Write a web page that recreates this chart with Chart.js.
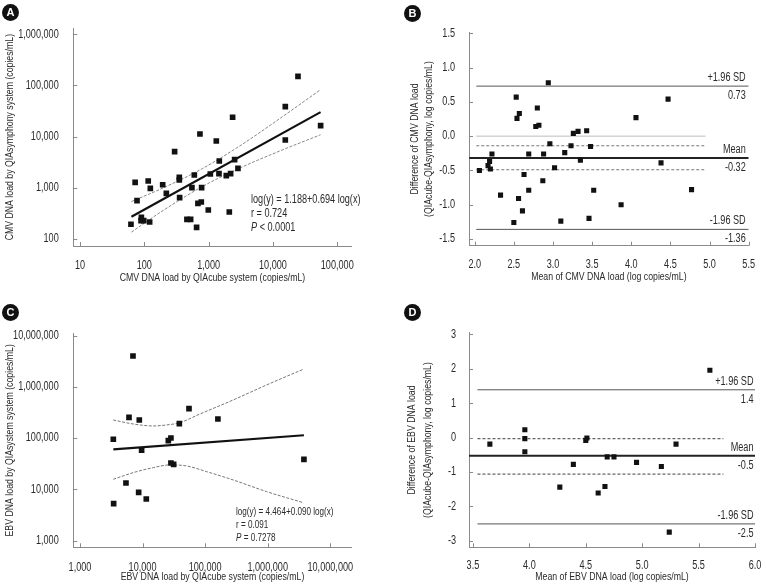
<!DOCTYPE html>
<html lang="en">
<head>
<meta charset="UTF-8">
<title>CMV / EBV DNA load - QIAcube vs QIAsymphony</title>
<script src="https://cdn.jsdelivr.net/npm/chart.js"></script>
<style>
  body { margin: 0; background: #fff; }
  #wrap { position: relative; width: 766px; height: 587px; overflow: hidden;
          font-family: "Liberation Sans", Arial, sans-serif; color: #2a2a2a; }
  canvas { position: absolute; }
  .tag { position: absolute; width: 17px; height: 17px; border-radius: 50%; background: #111; color: #fff;
         font: bold 11px "Liberation Sans", Arial, sans-serif; text-align: center; line-height: 17px; z-index: 2; }
  .eq { position: absolute; white-space: nowrap; z-index: 2; transform: scaleX(0.76); transform-origin: 0 0; }
</style>
</head>
<body>
<div id="wrap">
  <canvas id="cA" width="383" height="290" style="left:0;top:0"></canvas>
  <canvas id="cB" width="383" height="290" style="left:383px;top:0"></canvas>
  <canvas id="cC" width="383" height="297" style="left:0;top:290px"></canvas>
  <canvas id="cD" width="383" height="297" style="left:383px;top:290px"></canvas>

  <div class="tag" style="left:2px;top:4px">A</div>
  <div class="tag" style="left:404px;top:5px">B</div>
  <div class="tag" style="left:2px;top:304px">C</div>
  <div class="tag" style="left:404px;top:304px">D</div>

  <div class="eq" style="left:251px;top:192px;font-size:12px;line-height:14px">log(y) = 1.188+0.694 log(x)<br>r = 0.724<br><i>P</i> &lt; 0.0001</div>
  <div class="eq" style="left:236px;top:505px;font-size:10.7px;line-height:13px">log(y) = 4.464+0.090 log(x)<br>r = 0.091<br><i>P</i> = 0.7278</div>
</div>

<script>
// ---- A: CMV DNA load (copies/mL), QIAcube vs QIAsymphony
const cmvCube = [62, 72, 77, 90, 89, 98, 115, 121, 124, 193, 220, 296, 350, 350, 354, 460, 525, 550, 599, 650,
                 682, 769, 778, 733, 988, 1062, 1316, 1464, 1448, 1883, 2096, 2196, 2360, 2535, 2857, 15560, 15560, 24500, 55100];
const cmvSym  = [194, 1280, 561, 265, 228, 228, 1360, 215, 977, 1150, 780, 5090, 1600, 1420, 643, 242, 242, 1008, 1780, 169,
                 498, 528, 1008, 11270, 369, 1860, 8220, 3340, 1890, 1730, 337, 1890, 23900, 3550, 2400, 38500, 8610, 151000, 16400];
const cmvFitX = [63, 55000];
const cmvFitY = [272, 30100];
const cmvBandX  = [63, 200, 800, 3200, 12600, 55000];
const cmvBandHi = [540, 1007, 2380, 6850, 22300, 82800];
const cmvBandLo = [136, 367, 1060, 2500, 5210, 10900];
const aTicksX = [10, 100, 1000, 10000, 100000];
const aTicksY = [100, 1000, 10000, 100000, 1000000];

// ---- B: Bland-Altman CMV (log copies/mL)
const cmvMean = [2.06, 2.17, 2.19, 2.20, 2.22, 2.33, 2.50, 2.53, 2.54, 2.57, 2.56, 2.61, 2.63, 2.69, 2.69, 2.78, 2.80, 2.82, 2.87,
                 2.88, 2.94, 2.96, 3.02, 3.10, 3.15, 3.23, 3.26, 3.32, 3.35, 3.43, 3.46, 3.48, 3.52, 3.87, 4.06, 4.38, 4.47, 4.77];
const cmvDiff = [-0.50, -0.43, -0.37, -0.48, -0.26, -0.86, -1.26, 0.57, 0.26, 0.33, -0.91, -1.09, -0.56, -0.79, -0.26, 0.14, 0.41, 0.16, -0.65,
                 -0.26, 0.78, -0.11, -0.46, -1.24, -0.24, -0.14, 0.04, 0.07, -0.35, 0.08, -1.20, -0.15, -0.79, -1.00, 0.27, -0.39, 0.54, -0.78];
const bLimits = [0.73, -0.32, -1.36];           // +1.96 SD, mean, -1.96 SD
const bLimitNames = ['+1.96 SD', 'Mean', '-1.96 SD'];
const bLimitText = ['0.73', '-0.32', '-1.36'];
const bMeanCI = [-0.14, -0.49];
const bSpan = [2.02, 4.95, 5.5];                // line start, short end, long end
const bTicksX = [2.0, 2.5, 3.0, 3.5, 4.0, 4.5, 5.0, 5.5];
const bTicksY = [-1.5, -1.0, -0.5, 0.0, 0.5, 1.0, 1.5];

// ---- C: EBV DNA load (copies/mL), QIAcube vs QIAsystem
const ebvCube = [3410, 3450, 5430, 6070, 7030, 8660, 8870, 9660, 11470, 25800, 28400, 28400, 31400, 38700, 55200, 160000, 3790000];
const ebvSys  = [94900, 5270, 13300, 254700, 4010000, 8770, 226000, 57900, 6500, 89300, 100700, 32700, 30800, 192000, 377000, 236600, 38600];
const ebvFitX = [3410, 3790000];
const ebvFitY = [60500, 113800];
const ebvHiX = [3400, 7100, 14800, 24200, 39500, 82600, 281000, 959000, 3690000];
const ebvHiY = [226000, 188800, 172600, 180700, 200400, 295800, 555900, 1089000, 2203000];
const ebvLoX = [3400, 7100, 14800, 27400, 50600, 105700, 281000, 959000, 3690000];
const ebvLoY = [15740, 21230, 26550, 30000, 28640, 22180, 15280, 9040, 5510];
const cTicks = [1000, 10000, 100000, 1000000, 10000000];

// ---- D: Bland-Altman EBV (log copies/mL)
const ebvMean = [3.65, 3.96, 3.96, 3.96, 4.27, 4.39, 4.50, 4.51, 4.61, 4.67, 4.69, 4.75, 4.95, 5.17, 5.24, 5.30, 5.60];
const ebvDiff = [-0.19, 0.23, -0.03, -0.41, -1.44, -0.78, -0.08, -0.01, -1.61, -1.42, -0.56, -0.56, -0.72, -0.84, -2.75, -0.19, 1.96];
const dLimits = [1.39, -0.53, -2.51];
const dLimitNames = ['+1.96 SD', 'Mean', '-1.96 SD'];
const dLimitText = ['1.4', '-0.5', '-2.5'];
const dMeanCI = [-0.03, -1.06];
const dSpan = [3.54, 5.72, 6.0];
const dTicksX = [3.5, 4.0, 4.5, 5.0, 5.5, 6.0];
const dTicksY = [-3, -2, -1, 0, 1, 2, 3];

const FONT = '"Liberation Sans", Arial, sans-serif';
const SQUEEZE = 0.76;   // the original uses a condensed face
Chart.defaults.font.family = FONT;
Chart.defaults.font.size = 12;
Chart.defaults.color = '#2a2a2a';

// draw every canvas text narrower (no condensed font installed)
function condense(ctx) {
  const fill = ctx.fillText.bind(ctx);
  const measure = ctx.measureText.bind(ctx);
  ctx.fillText = function (text, x, y, maxWidth) {
    this.save();
    this.translate(x, y);
    this.scale(SQUEEZE, 1);
    if (maxWidth === undefined) fill(text, 0, 0); else fill(text, 0, 0, maxWidth / SQUEEZE);
    this.restore();
  };
  ctx.measureText = function (text) {
    const m = measure(text);
    return { width: m.width * SQUEEZE, actualBoundingBoxAscent: m.actualBoundingBoxAscent,
             actualBoundingBoxDescent: m.actualBoundingBoxDescent };
  };
}

// short tick marks pointing into the plot
Chart.register({
  id: 'innerTicks',
  afterDraw(chart) {
    const {ctx, chartArea: a, scales: {x, y}} = chart;
    ctx.save();
    ctx.strokeStyle = '#8a8a8a';
    ctx.lineWidth = 1;
    ctx.beginPath();
    x.ticks.forEach(t => { const p = Math.round(x.getPixelForValue(t.value)) + 0.5; ctx.moveTo(p, a.bottom); ctx.lineTo(p, a.bottom - 4); });
    y.ticks.forEach(t => { const p = Math.round(y.getPixelForValue(t.value)) + 0.5; ctx.moveTo(a.left, p); ctx.lineTo(a.left + 4, p); });
    ctx.stroke();
    ctx.restore();
  }
});

// labels above / below the limit-of-agreement lines
Chart.register({
  id: 'refLabels',
  afterDatasetsDraw(chart, args, opts) {
    if (!opts.values) return;
    const {ctx, chartArea: a, scales: {y}} = chart;
    ctx.save();
    ctx.font = '12px ' + FONT;
    ctx.fillStyle = '#2a2a2a';
    ctx.textAlign = 'right';
    ctx.textBaseline = 'middle';
    opts.values.forEach((v, i) => {
      const py = y.getPixelForValue(v);
      ctx.fillText(opts.above[i], a.right - opts.inset, py - 8.5);
      ctx.fillText(opts.below[i], a.right - opts.inset, py + 9.5);
    });
    ctx.restore();
  }
});

function axis(o) {
  return {
    type: o.type, min: o.min, max: o.max,
    grid: { display: false },
    border: { display: true, color: '#8a8a8a', width: 1 },
    ticks: { autoSkip: false, maxRotation: 0, padding: o.pad, callback: o.fmt },
    afterBuildTicks: s => { s.ticks = o.ticks.map(v => ({ value: v })); },
    afterFit: s => { if (s.isHorizontal()) s.height = o.size; else s.width = o.size; },
    title: { display: true, text: o.title, color: '#2a2a2a', padding: o.titlePad,
             font: { size: 11.5, lineHeight: o.lh || 1.25 } }
  };
}

const pts = (xs, ys) => xs.map((x, i) => ({ x: x, y: ys[i] }));
const comma = v => Number(v).toLocaleString('en-US');
const one = v => Number(v).toFixed(1);

function scatterSet(xs, ys, r) {
  return { data: pts(xs, ys), pointStyle: 'rect', pointRadius: r, backgroundColor: '#111', borderWidth: 0, order: 0 };
}
function lineSet(xs, ys, color, width, dash, smooth) {
  return { data: pts(xs, ys), showLine: true, pointRadius: 0, borderColor: color, borderWidth: width,
           borderDash: dash || [], cubicInterpolationMode: smooth ? 'monotone' : 'default', order: 1 };
}
function hline(x0, x1, v, color, width, dash) {
  return lineSet([x0, x1], [v, v], color, width, dash);
}

function makeChart(id, datasets, scales, padding, plugins) {
  const canvas = document.getElementById(id);
  condense(canvas.getContext('2d'));
  return new Chart(canvas, {
    type: 'scatter',
    data: { datasets: datasets },
    options: {
      responsive: false, animation: false, events: [],
      layout: { padding: padding },
      plugins: Object.assign({ legend: { display: false }, tooltip: { enabled: false } }, plugins || {}),
      scales: scales
    }
  });
}

// A
makeChart('cA', [
  lineSet(cmvFitX, cmvFitY, '#111', 2.2),
  lineSet(cmvBandX, cmvBandHi, '#888', 1, [3, 1.5], true),
  lineSet(cmvBandX, cmvBandLo, '#888', 1, [3, 1.5], true),
  scatterSet(cmvCube, cmvSym, 4)
], {
  x: axis({ type: 'logarithmic', min: 7.87, max: 167600, ticks: aTicksX, fmt: comma, pad: 4, size: 44,
            title: 'CMV DNA load by QIAcube system (copies/mL)', titlePad: { top: 0, bottom: 5.1 } }),
  y: axis({ type: 'logarithmic', min: 73, max: 1310000, ticks: aTicksY, fmt: comma, pad: 6.6, size: 73.3,
            title: 'CMV DNA load by QIAsymphony system (copies/mL)', titlePad: { top: 2.8, bottom: 0 } })
}, { left: 0, top: 28.3, right: 31.3, bottom: 0 });

// B
makeChart('cB', [
  hline(bSpan[0], bSpan[1], 0, '#bdbdbd', 1),
  hline(bSpan[0], bSpan[2], bLimits[0], '#555', 1),
  hline(1.93, bSpan[2], bLimits[1], '#222', 2),
  hline(bSpan[0], bSpan[2], bLimits[2], '#555', 1),
  hline(bSpan[0], bSpan[1], bMeanCI[0], '#777', 1, [3, 2]),
  hline(bSpan[0], bSpan[1], bMeanCI[1], '#777', 1, [3, 2]),
  scatterSet(cmvMean, cmvDiff, 3.6)
], {
  x: axis({ type: 'linear', min: 1.927, max: 5.5, ticks: bTicksX, fmt: one, pad: 4, size: 44.3,
            title: 'Mean of CMV DNA load (log copies/mL)', titlePad: { top: 0, bottom: 6.1 } }),
  y: axis({ type: 'linear', min: -1.598, max: 1.515, ticks: bTicksY, fmt: one, pad: 6, size: 86, lh: 1.2,
            title: ['Difference of CMV DNA load', '(QIAcube-QIAsymphony, log copies/mL)'], titlePad: { top: 24.8, bottom: 0 } })
}, { left: 0, top: 32.3, right: 17.3, bottom: 0 },
{ refLabels: { values: bLimits, above: bLimitNames, below: bLimitText, inset: 3 } });

// C
makeChart('cC', [
  lineSet(ebvFitX, ebvFitY, '#111', 2.2),
  lineSet(ebvHiX, ebvHiY, '#777', 1, [3, 1.5], true),
  lineSet(ebvLoX, ebvLoY, '#777', 1, [3, 1.5], true),
  scatterSet(ebvCube, ebvSys, 4)
], {
  x: axis({ type: 'logarithmic', min: 782, max: 21980000, ticks: cTicks, fmt: comma, pad: 5, size: 39.7,
            title: 'EBV DNA load by QIAcube system (copies/mL)', titlePad: { top: 0, bottom: 2.5 } }),
  y: axis({ type: 'logarithmic', min: 741, max: 11100000, ticks: cTicks, fmt: comma, pad: 6.6, size: 73.3,
            title: 'EBV DNA load by QIAsystem system (copies/mL)', titlePad: { top: 2.8, bottom: 0 } })
}, { left: 0, top: 43.3, right: 31.3, bottom: 0 });

// D
makeChart('cD', [
  hline(dSpan[0], dSpan[2], dLimits[0], '#555', 1),
  hline(3.465, dSpan[2], dLimits[1], '#222', 2),
  hline(dSpan[0], dSpan[2], dLimits[2], '#555', 1),
  hline(dSpan[0], dSpan[1], dMeanCI[0], '#666', 1.2, [3, 2]),
  hline(dSpan[0], dSpan[1], dMeanCI[1], '#666', 1.2, [3, 2]),
  scatterSet(ebvMean, ebvDiff, 3.6)
], {
  x: axis({ type: 'linear', min: 3.465, max: 6.0, ticks: dTicksX, fmt: one, pad: 3.5, size: 39.7,
            title: 'Mean of EBV DNA load (log copies/mL)', titlePad: { top: 0, bottom: 2.5 } }),
  y: axis({ type: 'linear', min: -3.19, max: 3.05, ticks: dTicksY, fmt: v => String(v), pad: 5, size: 86, lh: 1.39,
            title: ['Difference of EBV DNA load', '(QIAcube-QIAsymphony, log copies/mL)'], titlePad: { top: 21.3, bottom: 0 } })
}, { left: 0, top: 42.7, right: 11, bottom: 0 },
{ refLabels: { values: dLimits, above: dLimitNames, below: dLimitText, inset: 1.5 } });
</script>
</body>
</html>
